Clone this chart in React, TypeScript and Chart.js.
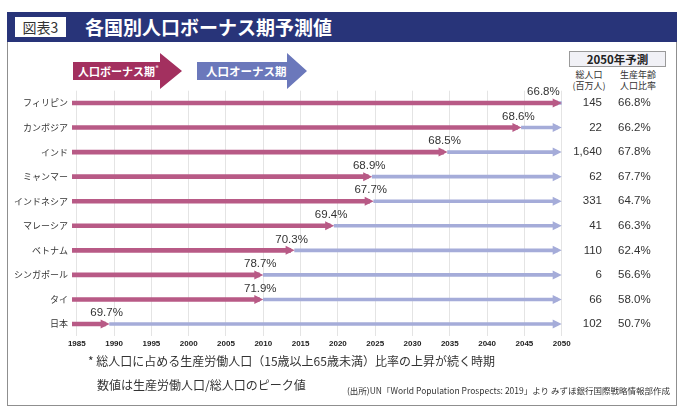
import { useEffect, useRef } from 'react';
import { Chart, registerables } from 'chart.js';

Chart.register(...registerables);

const FONT = '"Liberation Sans", "Noto Sans CJK JP", sans-serif';
const JP_FONT = '"Noto Sans CJK JP", "Liberation Sans", sans-serif';

// ---- data ----
const countries = ['フィリピン', 'カンボジア', 'インド', 'ミャンマー', 'インドネシア', 'マレーシア', 'ベトナム', 'シンガポール', 'タイ', '日本'];
const bonusStart = [1984.4, 1984.4, 1984.4, 1984.4, 1984.4, 1984.4, 1984.4, 1984.4, 1984.4, 1984.4];
const bonusEnd = [2050, 2044.6, 2034.7, 2024.6, 2024.8, 2019.5, 2014.2, 2010, 2010, 1989.4];
const projectionEnd = [2050, 2050, 2050, 2050, 2050, 2050, 2050, 2050, 2050, 2050];
const peakRatio = [66.8, 68.6, 68.5, 68.9, 67.7, 69.4, 70.3, 78.7, 71.9, 69.7];
const population2050 = [145, 22, 1640, 62, 331, 41, 110, 6, 66, 102];
const workingAgeRatio2050 = [66.8, 66.2, 67.8, 67.7, 64.7, 66.3, 62.4, 56.6, 58.0, 50.7];
const yearTicks = [1985, 1990, 1995, 2000, 2005, 2010, 2015, 2020, 2025, 2030, 2035, 2040, 2045, 2050];

const PINK = '#b85a86';
const BLUE = '#a5acd9';
const HEAD_LEN = 9;
const HEAD_HALF = 4.5;
const INSET = 4;

function triangle(ctx: CanvasRenderingContext2D, tipX: number, y: number, color: string) {
  ctx.beginPath();
  ctx.moveTo(tipX, y);
  ctx.lineTo(tipX - HEAD_LEN, y - HEAD_HALF);
  ctx.lineTo(tipX - HEAD_LEN, y + HEAD_HALF);
  ctx.closePath();
  ctx.fillStyle = color;
  ctx.fill();
}

const arrowPlugin = {
  id: 'arrowHeads',
  afterDatasetsUpdate(chart: any) {
    chart.data.datasets.forEach((_ds: any, di: number) => {
      const meta = chart.getDatasetMeta(di);
      meta.data.forEach((el: any) => {
        el.x = el.x - INSET;
      });
    });
  },
  afterDatasetsDraw(chart: any) {
    const ctx: CanvasRenderingContext2D = chart.ctx;
    const xs = chart.scales.x;
    const ys = chart.scales.y;
    const area = chart.chartArea;
    ctx.save();
    countries.forEach((_c, i) => {
      const y = ys.getPixelForValue(i);
      const pinkTip = xs.getPixelForValue(bonusEnd[i]);
      if (bonusEnd[i] < projectionEnd[i]) {
        triangle(ctx, xs.getPixelForValue(projectionEnd[i]), y, BLUE);
      }
      triangle(ctx, pinkTip, y, PINK);
      // peak label
      ctx.font = `11.5px ${FONT}`;
      ctx.fillStyle = '#333';
      ctx.textAlign = 'center';
      ctx.textBaseline = 'middle';
      const txt = peakRatio[i].toFixed(1) + '%';
      const w = ctx.measureText(txt).width;
      let cx = pinkTip - 3;
      if (cx + w / 2 > area.right - 2) cx = area.right - 2 - w / 2;
      ctx.fillText(txt, cx, y - 11);
      // 2050 table
      ctx.font = `11.5px ${FONT}`;
      ctx.textAlign = 'right';
      ctx.fillText(population2050[i].toLocaleString('en-US'), 602, y);
      ctx.textAlign = 'left';
      ctx.fillText(workingAgeRatio2050[i].toFixed(1) + '%', 618, y);
    });
    ctx.restore();
  },
};

export default function App() {
  const ref = useRef<HTMLCanvasElement | null>(null);

  useEffect(() => {
    document.body.style.margin = '0';
    if (!ref.current) return;
    const chart = new Chart(ref.current, {
      type: 'bar',
      data: {
        labels: countries,
        datasets: [
          {
            label: '人口オーナス期',
            data: countries.map((_c, i) => [bonusEnd[i], projectionEnd[i]]),
            backgroundColor: BLUE,
            barThickness: 3,
            grouped: false,
            order: 2,
          } as any,
          {
            label: '人口ボーナス期',
            data: countries.map((_c, i) => [bonusStart[i], bonusEnd[i]]),
            backgroundColor: PINK,
            barThickness: 4,
            grouped: false,
            order: 1,
          } as any,
        ],
      },
      options: {
        indexAxis: 'y',
        animation: false,
        responsive: false,
        layout: { padding: { left: 0, top: 90.7, right: 118.3, bottom: 55.7 } },
        plugins: { legend: { display: false }, tooltip: { enabled: false } },
        scales: {
          x: {
            type: 'linear',
            min: 1984.36,
            max: 2050,
            afterBuildTicks: (s: any) => {
              s.ticks = yearTicks.map((v) => ({ value: v }));
            },
            afterFit: (s: any) => {
              s.height = 16;
            },
            grid: { color: '#e4e4e4', lineWidth: 1, drawTicks: false },
            border: { display: false },
            ticks: {
              padding: 3,
              color: '#222',
              font: { family: FONT, size: 8, weight: 'bold' },
              callback: (v: any) => String(v),
              maxRotation: 0,
              autoSkip: false,
            },
          },
          y: {
            type: 'category',
            afterFit: (s: any) => {
              s.width = 72;
            },
            grid: { display: false, drawTicks: false },
            border: { display: false },
            ticks: {
              padding: 4,
              color: '#333',
              font: { family: JP_FONT, size: 9 },
              autoSkip: false,
            },
          },
        },
      } as any,
      plugins: [arrowPlugin],
    });
    return () => chart.destroy();
  }, []);

  const abs = (o: any): React.CSSProperties => ({ position: 'absolute', ...o });

  return (
    <div style={{ position: 'relative', width: 680, height: 408, background: '#fff', fontFamily: JP_FONT, color: '#333', overflow: 'hidden' }}>
      {/* frame */}
      <div style={abs({ left: 7, top: 12, width: 668, height: 392, border: '1px solid #8f8f8f' })} />
      {/* header */}
      <div style={abs({ left: 7, top: 12, width: 670, height: 30, background: '#283479' })} />
      <div style={abs({ left: 15, top: 17, width: 51, height: 20, background: '#fff', color: '#333', fontSize: 14, lineHeight: '20px', textAlign: 'center' })}>図表3</div>
      <div style={abs({ left: 85, top: 12, height: 30, lineHeight: '30px', color: '#fff', fontSize: 19, fontWeight: 'bold', whiteSpace: 'nowrap' })}>各国別人口ボーナス期予測値</div>

      {/* legend arrows */}
      <div style={abs({ left: 73, top: 53, width: 109, height: 36, background: '#a3305f', clipPath: 'polygon(0 9px, 87px 9px, 87px 0, 109px 18px, 87px 36px, 87px 27px, 0 27px)' })} />
      <div style={abs({ left: 78, top: 62, height: 18, lineHeight: '18px', color: '#fff', fontSize: 11, fontWeight: 'bold', whiteSpace: 'nowrap' })}>
        人口ボーナス期<span style={{ fontSize: 8, verticalAlign: 'top', lineHeight: '12px', color: '#e8c6d4' }}>*</span>
      </div>
      <div style={abs({ left: 197, top: 53, width: 110, height: 36, background: '#6b78bb', clipPath: 'polygon(0 9px, 90px 9px, 90px 0, 110px 18px, 90px 36px, 90px 27px, 0 27px)' })} />
      <div style={abs({ left: 206, top: 62, height: 18, lineHeight: '18px', color: '#fff', fontSize: 11.5, fontWeight: 'bold', whiteSpace: 'nowrap' })}>人口オーナス期</div>

      {/* 2050 table header */}
      <div style={abs({ left: 569, top: 51, width: 95, height: 14, background: '#f1f1f6', border: '1px solid #9a9a9a', fontSize: 11.5, fontWeight: 'bold', lineHeight: '14px', textAlign: 'center', color: '#222' })}>2050年予測</div>
      <div style={abs({ left: 569, top: 69, width: 40, fontSize: 9, lineHeight: '11px', textAlign: 'center', color: '#333' })}>総人口<br />(百万人)</div>
      <div style={abs({ left: 618, top: 69, width: 40, fontSize: 9, lineHeight: '11px', textAlign: 'center', color: '#333' })}>生産年齢<br />人口比率</div>

      <canvas ref={ref} width={680} height={408} style={abs({ left: 0, top: 0, width: 680, height: 408 })} />

      {/* footnotes */}
      <div style={abs({ left: 88, top: 352, fontSize: 12, lineHeight: '18px', whiteSpace: 'nowrap', color: '#333' })}>* 総人口に占める生産労働人口（15歳以上65歳未満）比率の上昇が続く時期</div>
      <div style={abs({ left: 97, top: 376, fontSize: 12, lineHeight: '18px', whiteSpace: 'nowrap', color: '#333' })}>数値は生産労働人口/総人口のピーク値</div>
      <div style={abs({ right: 10, top: 384, fontSize: 8.5, lineHeight: '12px', whiteSpace: 'nowrap', color: '#333' })}>(出所)UN「World Population Prospects: 2019」より みずほ銀行国際戦略情報部作成</div>
    </div>
  );
}
